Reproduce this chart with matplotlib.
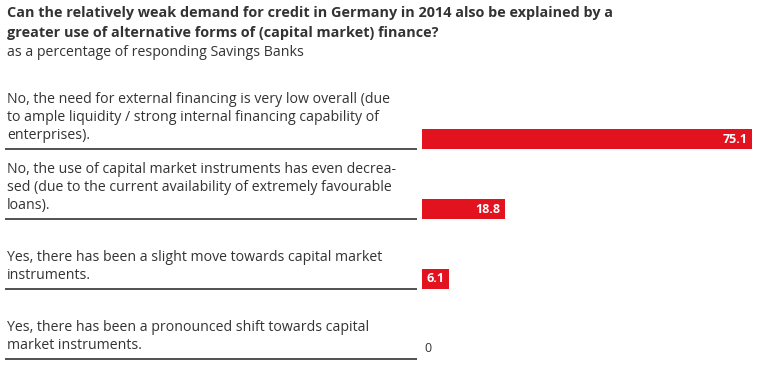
import matplotlib.pyplot as plt
import matplotlib.transforms as mtransforms

plt.rcParams['font.family'] = ['Open Sans', 'DejaVu Sans']

title = ('Can the relatively weak demand for credit in Germany in 2014 also be explained by a\n'
         'greater use of alternative forms of (capital market) finance?')
subtitle = 'as a percentage of responding Savings Banks'

answers = [
    'No, the need for external financing is very low overall (due\n'
    'to ample liquidity / strong internal financing capability of\n'
    'enterprises).',
    'No, the use of capital market instruments has even decrea-\n'
    'sed (due to the current availability of extremely favourable\n'
    'loans).',
    'Yes, there has been a slight move towards capital market\n'
    'instruments.',
    'Yes, there has been a pronounced shift towards capital\n'
    'market instruments.',
]
shares = [75.1, 18.8, 6.1, 0]

red = '#e2121f'
text_col = '#333333'
W, H = 768, 370

fig = plt.figure(figsize=(W / 100, H / 100), dpi=100)
fig.patch.set_facecolor('white')

fig.text(7 / W, 1 - 6 / H, title, fontsize=10.35, fontweight='bold', color=text_col,
         va='top', ha='left', linespacing=1.55)
fig.text(7 / W, 1 - 45 / H, subtitle, fontsize=10.2, color=text_col, va='top', ha='left')

# bar axes
ax = fig.add_axes([422 / W, 0, (760 - 422) / W, 1 - 104 / H])
ax.set_xlim(0, 77)
ax.set_ylim(3.3, -0.5)
ax.axis('off')

pos = list(range(len(shares)))
bar_h = 0.286
ax.barh(pos, shares, height=bar_h, color=red, edgecolor='none')

for p, v in zip(pos, shares):
    if v > 0:
        ax.annotate(f'{v:.1f}', (v, p), xytext=(-4, 0), textcoords='offset pixels',
                    ha='right', va='center', color='white', fontsize=9, fontweight='bold')
    else:
        ax.annotate('0', (0, p), xytext=(2, 1), textcoords='offset pixels',
                    ha='left', va='center', color=text_col, fontsize=9)

# left-hand answer texts with rule lines
blend = mtransforms.blended_transform_factory(fig.transFigure, ax.transData)
for p, label in zip(pos, answers):
    y_line = p + bar_h / 2
    ax.plot([5 / W, 417 / W], [y_line, y_line], transform=blend, color=text_col,
            lw=1.2, clip_on=False, solid_capstyle='butt')
    tr = mtransforms.offset_copy(blend, fig=fig, x=0, y=6, units='dots')
    ax.text(7 / W, y_line, label, transform=tr, ha='left', va='bottom',
            fontsize=10.2, color=text_col, linespacing=1.27)

fig.savefig('out.png', dpi=100, facecolor='white')
